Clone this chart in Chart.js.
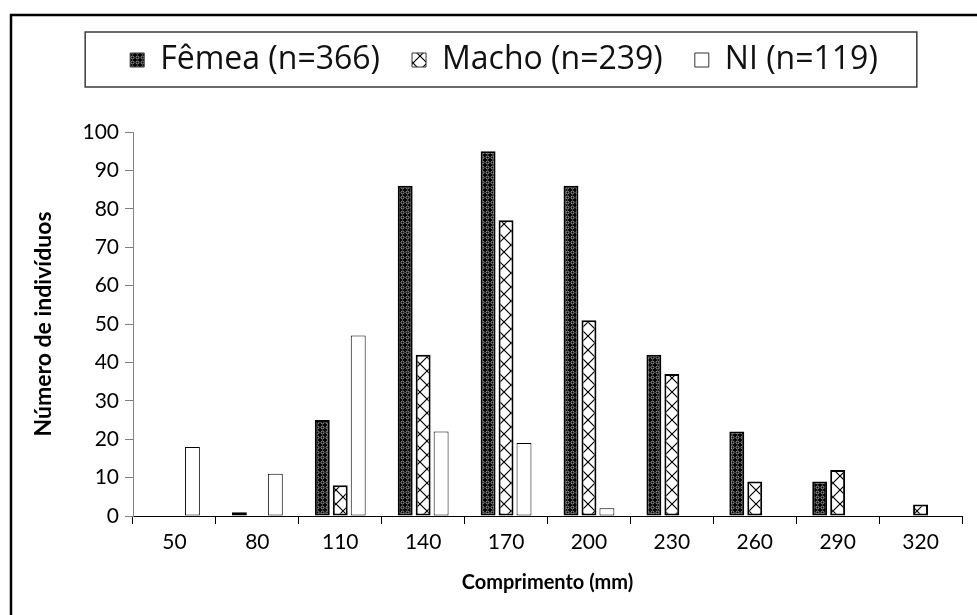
<!DOCTYPE html>
<html>
<head>
<meta charset="utf-8">
<script src="https://cdn.jsdelivr.net/npm/chart.js@4.4.1/dist/chart.umd.min.js"></script>
<style>
html,body{margin:0;padding:0;background:#fff;}
#wrap{width:977px;height:615px;}
</style>
</head>
<body>
<div id="wrap"><canvas id="c" width="977" height="615"></canvas></div>
<script>
// ---- data ----
const categories = ['50','80','110','140','170','200','230','260','290','320'];
const femea = [null, 1, 25, 86, 95, 86, 42, 22, 9, null];
const macho = [null, null, 8, 42, 77, 51, 37, 9, 12, 3];
const ni    = [18, 11, 47, 22, 19, 2, null, null, null, null];
const seriesLabels = ['Fêmea (n=366)', 'Macho (n=239)', 'NI (n=119)'];
const yMin = 0, yMax = 100, yStep = 10;
const xTitle = 'Comprimento (mm)';
const yTitle = 'Número de indivíduos';

// ---- patterns ----
const canvas = document.getElementById('c');
const ctx = canvas.getContext('2d');
function makeFemea(){
  const t = document.createElement('canvas'); t.width = 5; t.height = 5;
  const g = t.getContext('2d');
  g.fillStyle = '#000'; g.fillRect(0,0,5,5);
  g.strokeStyle = '#a0a0a0'; g.lineWidth = 1;
  g.beginPath(); g.arc(2.5,2.5,1.5,0,Math.PI*2); g.stroke();
  return ctx.createPattern(t,'repeat');
}
function makeMacho(){
  const s = 14;
  const t = document.createElement('canvas'); t.width = s; t.height = s;
  const g = t.getContext('2d');
  g.fillStyle = '#fff'; g.fillRect(0,0,s,s);
  g.strokeStyle = '#000'; g.lineWidth = 1.2;
  g.beginPath(); g.moveTo(0,0); g.lineTo(s,s); g.moveTo(s,0); g.lineTo(0,s); g.stroke();
  return ctx.createPattern(t,'repeat');
}
const patF = makeFemea();
const patM = makeMacho();

const baseFont = 'Lato';
const legendFont = '"Open Sans"';

const framePlugin = {
  id: 'frames',
  afterInit(chart){
    const lg = chart.legend;
    const orig = lg.fit.bind(lg);
    lg.fit = function(){ orig(); this.height = 120; };
  },
  afterLayout(chart){
    // nudge the legend row slightly right, as in the original
    chart.legend.left += 18;
  },
  beforeDraw(chart){
    const c = chart.ctx;
    c.save();
    c.fillStyle = '#fff'; c.fillRect(0,0,chart.width,chart.height);
    c.strokeStyle = '#000'; c.lineWidth = 2.5;
    c.beginPath();
    c.moveTo(11, chart.height + 5); c.lineTo(11, 15); c.lineTo(chart.width + 5, 15);
    c.stroke();
    c.restore();
  },
  afterDraw(chart){
    const hb = chart.legend.legendHitBoxes;
    if (!hb || !hb.length) return;
    let minL = Infinity, maxR = -Infinity, cy = 0;
    hb.forEach(b => { minL = Math.min(minL, b.left); maxR = Math.max(maxR, b.left + b.width); cy = b.top + b.height/2; });
    const c = chart.ctx;
    c.save();
    c.strokeStyle = '#3a3a3a'; c.lineWidth = 1.5;
    c.strokeRect(minL - 45, cy - 28, (maxR + 39) - (minL - 45), 55);
    c.restore();
  }
};

new Chart(ctx, {
  type: 'bar',
  data: {
    labels: categories,
    datasets: [
      { label: seriesLabels[0], data: femea, backgroundColor: patF, borderColor: '#000', borderWidth: 2, borderSkipped: false },
      { label: seriesLabels[1], data: macho, backgroundColor: patM, borderColor: '#000', borderWidth: 2, borderSkipped: false },
      { label: seriesLabels[2], data: ni, backgroundColor: '#fff', borderColor: '#000', borderWidth: 1, borderSkipped: false }
    ]
  },
  options: {
    responsive: false,
    animation: false,
    devicePixelRatio: 1,
    layout: { padding: { left: 28, right: 15, top: 12, bottom: 0 } },
    datasets: { bar: { categoryPercentage: 0.65, barPercentage: 0.83 } },
    plugins: {
      tooltip: { enabled: false },
      legend: {
        position: 'top',
        labels: {
          boxWidth: 14, boxHeight: 14,
          padding: 32,
          color: '#111',
          font: { family: legendFont, size: 32, lineHeight: 1.0 },
          generateLabels(chart){
            const items = Chart.defaults.plugins.legend.labels.generateLabels(chart);
            items.forEach(it => { it.lineWidth = 1; it.strokeStyle = '#333'; });
            return items;
          }
        }
      }
    },
    scales: {
      x: {
        grid: { display: true, drawOnChartArea: false, offset: true, tickLength: 8, color: '#000' },
        border: { color: '#000', width: 1 },
        ticks: { color: '#000', font: { family: baseFont, size: 21 }, padding: 6 },
        title: { display: true, text: xTitle, color: '#000', font: { family: baseFont, size: 20, weight: 'bold' }, padding: { top: 6, bottom: 20 } },
        afterFit(s){ s.height = 99; }
      },
      y: {
        min: yMin, max: yMax,
        ticks: { stepSize: yStep, color: '#000', font: { family: baseFont, size: 21 }, padding: 6 },
        grid: { display: true, drawOnChartArea: false, tickLength: 8, color: '#808080' },
        border: { color: '#808080', width: 1 },
        title: { display: true, text: yTitle, color: '#000', font: { family: baseFont, size: 23, weight: 'bold' }, padding: { top: 2, bottom: 4 } },
        afterFit(s){ s.width = 105; }
      }
    }
  },
  plugins: [framePlugin]
});
</script>
</body>
</html>
